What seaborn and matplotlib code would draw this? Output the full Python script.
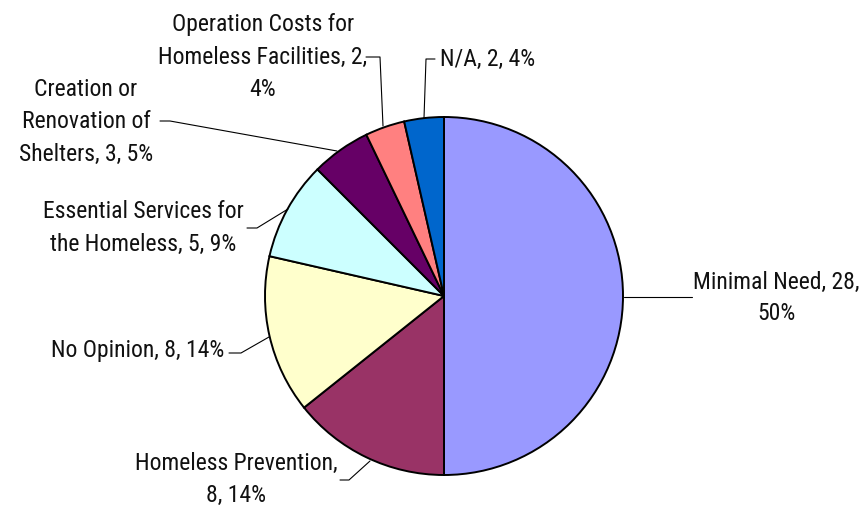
import matplotlib
matplotlib.use('Agg')
import matplotlib.pyplot as plt
import seaborn as sns

categories = ['Minimal Need', 'Homeless Prevention', 'No Opinion',
              'Essential Services for the Homeless', 'Creation or Renovation of Shelters',
              'Operation Costs for Homeless Facilities', 'N/A']
counts = [28, 8, 8, 5, 3, 2, 2]
colors = ['#9999FF', '#993366', '#FFFFCC', '#CCFFFF', '#660066', '#FF8080', '#0066CC']

# label text as wrapped in the original chart
label_texts = [
    'Minimal Need, 28,\n50%',
    'Homeless Prevention,\n8, 14%',
    'No Opinion, 8, 14%',
    'Essential Services for\nthe Homeless, 5, 9%',
    'Creation or\nRenovation of\nShelters, 3, 5%',
    'Operation Costs for\nHomeless Facilities, 2,\n4%',
    'N/A, 2, 4%',
]

sns.set_theme(style='white')
plt.rcParams['font.family'] = ['Roboto Condensed', 'Archivo Narrow', 'DejaVu Sans']

W, H = 868, 508
fig = plt.figure(figsize=(W / 100, H / 100), dpi=100)
ax = fig.add_axes([0, 0, 1, 1])

ax.pie(counts, colors=colors, startangle=90, counterclock=False,
       center=(444, H - 296), radius=179,
       wedgeprops=dict(edgecolor='black', linewidth=1.4))

# pie() resets the limits, so set pixel-like limits afterwards
ax.set_xlim(0, W)
ax.set_ylim(0, H)
ax.set_aspect('equal')
ax.axis('off')

# (text x, text y, ha, leader line points) in pixel coords from top
layout = [
    (776, 298, 'center', [(692, 297), (624, 297)]),
    (236, 479, 'center', [(340, 480), (349, 480), (370, 461)]),
    (224, 351, 'right', [(229, 353), (241, 353), (269, 337)]),
    (143, 228, 'center', [(247, 228), (257, 228), (288, 209)]),
    (86, 122, 'center', [(160, 121), (170, 121), (337, 151)]),
    (263, 57, 'center', [(366, 57), (380, 57), (383, 126)]),
    (440, 59, 'left', [(435, 59), (426, 59), (424, 118)]),
]

for txt, (tx, ty, ha, pts) in zip(label_texts, layout):
    ax.text(tx, H - ty, txt, ha=ha, va='center', fontsize=17,
            color='#111111', linespacing=1.5)
    xs = [p[0] for p in pts]
    ys = [H - p[1] for p in pts]
    ax.plot(xs, ys, color='black', linewidth=0.8)

fig.savefig('out.png', dpi=100, facecolor='white')
